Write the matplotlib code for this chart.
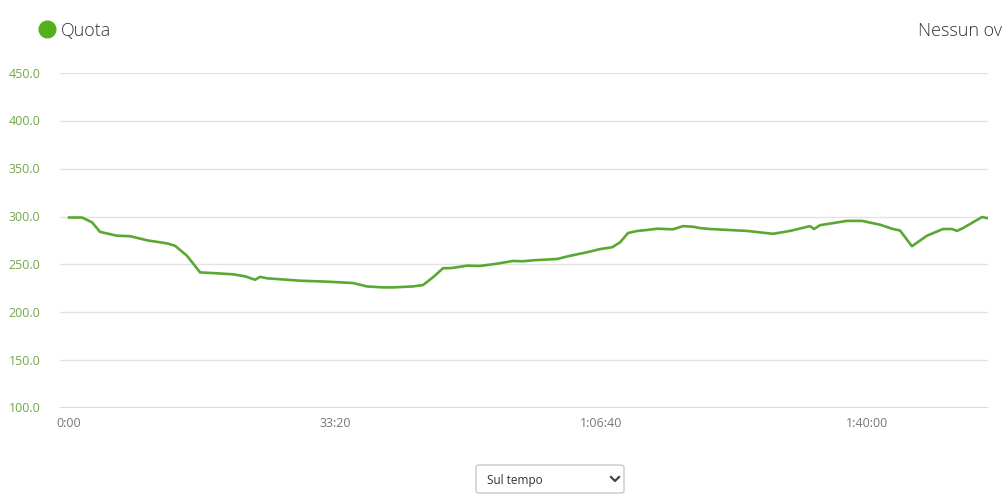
import matplotlib
matplotlib.use("Agg")
import matplotlib.pyplot as plt
from matplotlib.patches import FancyBboxPatch
from matplotlib.lines import Line2D
from matplotlib.ticker import FuncFormatter

plt.rcParams["font.family"] = ["Open Sans", "DejaVu Sans"]

# elapsed time (s) and elevation (m)
time_s = [0, 98, 173, 233, 361, 459, 594, 737, 797, 887, 947, 985, 1113,
          1233, 1323, 1399, 1436, 1489, 1737, 1940, 2135, 2241, 2361, 2436,
          2586, 2662, 2737, 2812, 2880, 2992, 3090, 3218, 3338, 3414, 3489,
          3669, 3767, 3895, 3992, 4083, 4143, 4203, 4271, 4346, 4421, 4541,
          4617, 4692, 4744, 4820, 5098, 5293, 5421, 5571, 5602, 5647, 5850,
          5962, 6098, 6195, 6248, 6338, 6451, 6571, 6639, 6677, 6722, 6797,
          6865, 6902]
quota = [299, 299, 294, 284, 280, 279.5, 275, 272, 269.5, 259, 248.5, 241.7,
         240.7, 239.7, 237.6, 234, 237, 235.5, 233, 232, 230.6, 227, 226, 226,
         227, 228.5, 236.6, 246, 246.3, 248.7, 248.4, 250.8, 253.6, 253.3,
         254.3, 255.7, 259, 262.7, 266, 267.9, 273, 282.8, 284.9, 286, 287.3,
         286.7, 290, 289.4, 288, 287, 285, 282, 285, 290, 287, 291, 295.5,
         295.5, 291.5, 287, 285.5, 269, 280, 287, 287, 285, 288, 294, 299.5,
         298.5]

y_ticks = [100, 150, 200, 250, 300, 350, 400, 450]
x_ticks = [0, 2000, 4000, 6000]

LINE = "#5aa832"
W, H = 1004, 502


def hms(t, pos=None):
    t = int(round(t))
    h, rem = divmod(t, 3600)
    m, s = divmod(rem, 60)
    return f"{h}:{m:02d}:{s:02d}" if h else f"{m}:{s:02d}"


fig = plt.figure(figsize=(W / 100, H / 100), dpi=100)
ax = fig.add_axes([60 / W, 1 - 409 / H, (988 - 60) / W, (409 - 74) / H])

ax.plot(time_s, quota, color=LINE, lw=1.9, solid_joinstyle="round")

ax.set_xlim(-68, 6910)
ax.set_ylim(100, 450)
ax.set_yticks(y_ticks)
ax.set_xticks(x_ticks)
ax.yaxis.set_major_formatter(FuncFormatter(lambda v, p: f"{v:.1f}"))
ax.xaxis.set_major_formatter(FuncFormatter(hms))
for sp in ax.spines.values():
    sp.set_visible(False)
ax.grid(axis="y", color="#e3e3e3", lw=1)
ax.axhline(100, color="#ccd6eb", lw=1.2)
ax.tick_params(axis="y", length=0, pad=14, labelsize=9, labelcolor="#72a84a")
ax.tick_params(axis="x", length=0, pad=6, labelsize=9, labelcolor="#777777")
for lbl in ax.get_yticklabels():
    lbl.set_verticalalignment("center")

# legend header
fig.lines.append(Line2D([47 / W], [1 - 30 / H], transform=fig.transFigure,
                        marker="o", markersize=12, color="#52b01e", lw=0))
fig.text(61 / W, 1 - 31 / H, "Quota", fontsize=13, fontweight="light",
         color="#333333", va="center", ha="left")
fig.text(1002 / W, 1 - 31 / H, "Nessun ov", fontsize=13, fontweight="light",
         color="#333333", va="center", ha="right")

# dropdown
box = FancyBboxPatch((476 / W, 1 - 494 / H), (624 - 476) / W, (494 - 466) / H,
                     boxstyle="round,pad=0,rounding_size=0.004",
                     transform=fig.transFigure, facecolor="white",
                     edgecolor="#c8c8c8", lw=1)
fig.patches.append(box)
fig.text(487 / W, 1 - 481 / H, "Sul tempo", fontsize=8.5, color="#333333",
         va="center", ha="left")
fig.lines.append(Line2D([611 / W, 615 / W, 619 / W],
                        [1 - 478 / H, 1 - 482 / H, 1 - 478 / H],
                        transform=fig.transFigure, color="#444444", lw=1.6))

fig.savefig("out.png", dpi=100)
